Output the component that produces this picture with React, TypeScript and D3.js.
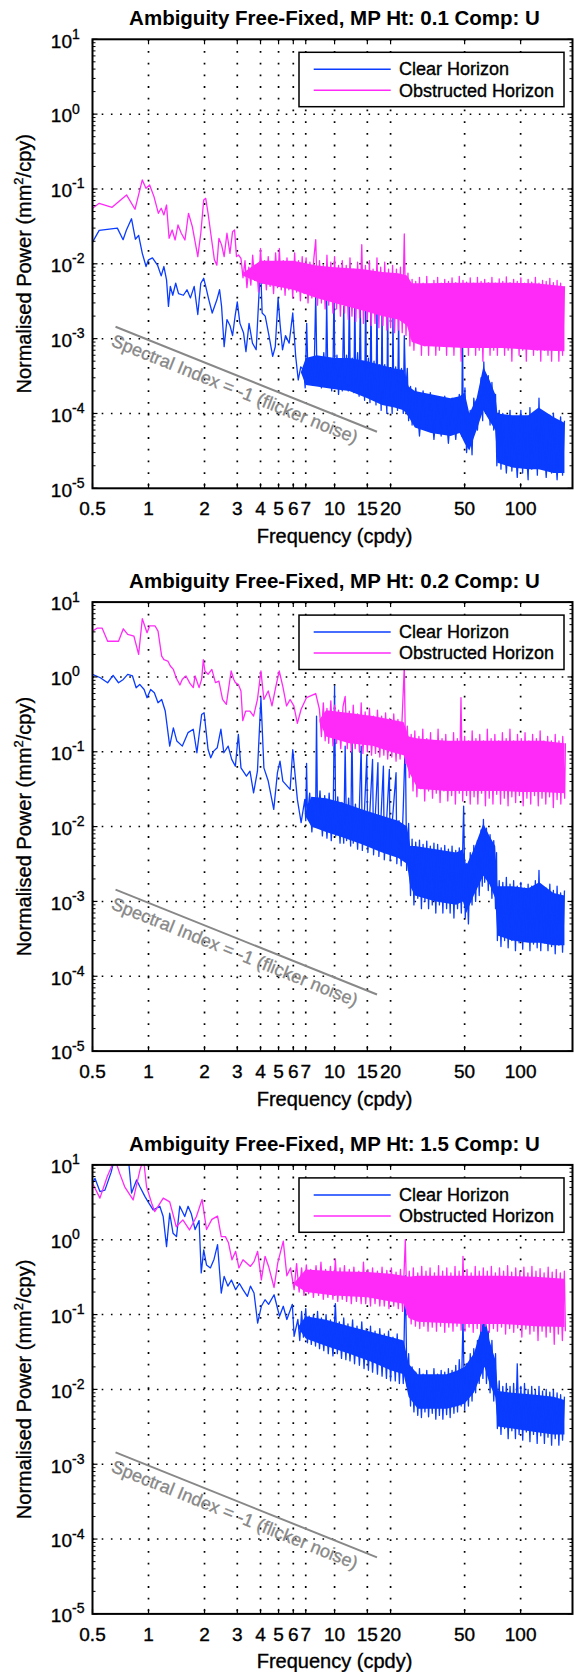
import React from "react";
import * as d3 from "d3";

type Pt = [number, number];
type Band = [number, number, number];

const titles = [
  "Ambiguity Free-Fixed, MP Ht: 0.1 Comp: U",
  "Ambiguity Free-Fixed, MP Ht: 0.2 Comp: U",
  "Ambiguity Free-Fixed, MP Ht: 1.5 Comp: U",
];
const seriesNames = ["Clear Horizon", "Obstructed Horizon"];
const seriesColors = ["#0a3cff", "#ff2af8"];
const xTickValues = [0.5, 1, 2, 3, 4, 5, 6, 7, 10, 15, 20, 50, 100];
const yExponents = [-5, -4, -3, -2, -1, 0, 1];
const spectralF = [0.665, 16.9];
const spectralV = [1.44e-3, 5.7e-5];
const spectralLabel = "Spectral Index = -1 (flicker noise)";

// ---- panel 1 (MP Ht 0.1) ----
const p1ClearLine: Pt[] = [
  [0.5, 0.0194], [0.543, 0.028], [0.68, 0.03], [0.73, 0.021], [0.76, 0.028], [0.81, 0.04], [0.85, 0.0213],
  [0.885, 0.024], [0.926, 0.0138], [0.97, 0.0092], [1.0, 0.0113], [1.05, 0.012], [1.12, 0.0095], [1.17, 0.0069],
  [1.21, 0.0092], [1.25, 0.0061], [1.28, 0.0027], [1.31, 0.005], [1.35, 0.0038], [1.4, 0.0055], [1.45, 0.004],
  [1.54, 0.0038], [1.61, 0.0045], [1.68, 0.0035], [1.76, 0.005], [1.84, 0.0021], [1.91, 0.0055], [1.98, 0.0064],
  [2.03, 0.005], [2.11, 0.0033], [2.2, 0.0022], [2.33, 0.0033], [2.41, 0.0045], [2.47, 0.0027], [2.55, 0.00078],
  [2.64, 0.0018], [2.74, 0.0015], [2.83, 0.0011], [2.92, 0.002], [3.0, 0.0031], [3.1, 0.0016], [3.24, 0.0012],
  [3.34, 0.00067], [3.47, 0.0016], [3.62, 0.00087], [3.79, 0.00071], [3.91, 0.0033], [4.0, 0.01], [4.08, 0.0022],
  [4.24, 0.002], [4.44, 0.0011], [4.65, 0.00058], [4.8, 0.00078], [4.97, 0.0035], [5.09, 0.0016], [5.25, 0.00071],
  [5.45, 0.0011], [5.7, 0.00087], [5.96, 0.0022], [6.18, 0.00058], [6.38, 0.00028], [6.58, 0.00042], [6.83, 3.8e-4],
  [6.95, 2.2e-4], [7.08, 1.6e-3], [7.2, 3e-4], [7.4, 5.5e-4], [7.6, 2.4e-4], [7.8, 6e-4], [7.92, 4e-3], [8.05, 2.6e-4],
  [8.3, 5e-4], [8.5, 2.2e-4], [8.75, 6.5e-4], [8.95, 2.5e-4], [9.07, 3.3e-3], [9.2, 3e-4], [9.45, 5.5e-4], [9.65, 2e-4],
  [9.83, 6e-4], [9.93, 5e-3], [10.05, 2.2e-4], [10.3, 6e-4], [10.5, 1.8e-4], [10.8, 5e-4], [11.0, 2e-4], [11.2, 2.7e-3],
  [11.35, 2.5e-4], [11.6, 6e-4], [11.85, 2e-4], [12.0, 4.5e-3], [12.15, 2.4e-4], [12.45, 5.5e-4], [12.7, 1.9e-4],
  [12.85, 4e-3], [13.0, 2.2e-4], [13.3, 6.5e-4], [13.55, 1.7e-4], [13.75, 3.3e-3], [13.9, 2.3e-4], [14.2, 5e-4],
  [14.5, 1.5e-4], [14.7, 4.5e-3], [14.85, 2e-4], [15.2, 5.5e-4], [15.5, 1.4e-4], [15.7, 3.7e-3], [15.85, 2e-4],
  [16.3, 5e-4], [16.7, 1.3e-4], [16.9, 3.7e-3], [17.05, 1.8e-4], [17.5, 4.5e-4], [17.8, 1.1e-4], [18.0, 3.3e-3],
  [18.15, 1.6e-4], [18.6, 4.5e-4], [19.1, 1e-4], [19.3, 4e-3], [19.45, 1.5e-4], [19.9, 4e-4], [20.4, 1e-4],
  [20.6, 2.4e-3], [20.8, 1.5e-4], [21.3, 4.2e-4], [21.8, 1.1e-4], [22.1, 2.2e-3], [22.3, 1.4e-4], [22.9, 4e-4],
  [23.4, 1e-4], [23.7, 1.1e-3], [24.1, 2e-4], [24.6, 4e-4], [25.0, 8e-5], [25.6, 2.3e-4], [26.1, 7e-5],
  [27.3, 2.2e-4], [28.6, 5e-5], [29.9, 2e-4], [31.3, 6e-5], [32.7, 1.9e-4], [34.2, 4.5e-5], [35.8, 1.6e-4],
  [37.4, 5e-5], [39.1, 1.7e-4], [40.9, 4e-5], [42.8, 1.6e-4], [44.8, 4.5e-5], [46.8, 1.8e-4], [48.2, 5e-5],
  [48.7, 1.45e-3], [49.2, 5e-5], [50.2, 2.2e-4], [51.2, 3e-5], [53.6, 1.1e-4], [54.8, 2.8e-5], [56, 1.6e-4],
  [58.6, 6e-5], [61.3, 3e-4], [62.5, 8e-5], [63.4, 4.9e-4], [64.8, 1e-4], [67, 3.2e-4], [68.5, 7e-5], [70.1, 2.6e-4],
  [71.7, 6e-5], [73.3, 1.8e-4], [74.5, 2e-5], [76.7, 1.1e-4], [78.4, 1.8e-5], [80.2, 1e-4], [83.8, 1.6e-5],
  [87.7, 1.1e-4], [89.7, 1.7e-5], [91.7, 9e-5], [95.9, 1.4e-5], [100.3, 1.1e-4], [102.5, 1.6e-5], [104.9, 9e-5],
  [109.7, 1.3e-5], [112.2, 1.2e-4], [114.7, 1.8e-5], [120, 1e-4], [123, 1.5e-5], [125.5, 1.6e-4], [128, 2e-5],
  [131.2, 1e-4], [137.2, 1.4e-5], [143.5, 9.5e-5], [146.7, 1.6e-5], [150, 1e-4], [157, 1.3e-5], [164, 9e-5],
  [168, 1.5e-5], [172, 8e-5],
];
const p1ClearBand: Band[] = [
  [6.6, 3.5e-4, 3.6e-4], [7, 2.4e-4, 5.5e-4], [8, 2.3e-4, 6e-4], [10, 2.1e-4, 5.5e-4], [12, 2e-4, 5.5e-4],
  [15, 1.6e-4, 5e-4], [18, 1.3e-4, 4.4e-4], [21, 1.2e-4, 4e-4], [23.5, 1.1e-4, 3.8e-4], [25, 9e-5, 2.3e-4],
  [27, 6.5e-5, 2e-4], [33, 5.5e-5, 1.8e-4], [42, 5e-5, 1.6e-4], [47, 5.5e-5, 1.7e-4], [50, 4e-5, 1.9e-4],
  [53, 3.2e-5, 1e-4], [58, 6e-5, 1.6e-4], [63, 1.1e-4, 4.2e-4], [68, 8e-5, 2.8e-4], [73, 6e-5, 1.8e-4],
  [75, 2.2e-5, 1e-4], [90, 1.9e-5, 9.5e-5], [110, 1.8e-5, 9.5e-5], [125, 1.8e-5, 1.2e-4], [150, 1.6e-5, 9e-5],
  [172, 1.6e-5, 7.5e-5],
];
const p1ObsLine: Pt[] = [
  [0.5, 0.0552], [0.543, 0.0643], [0.637, 0.0569], [0.762, 0.0832], [0.846, 0.0535], [0.926, 0.132], [0.969, 0.102],
  [1.014, 0.113], [1.07, 0.079], [1.13, 0.0473], [1.17, 0.0552], [1.21, 0.045], [1.25, 0.061], [1.29, 0.0219],
  [1.34, 0.0283], [1.39, 0.0208], [1.44, 0.033], [1.5, 0.0256], [1.57, 0.0208], [1.64, 0.0473], [1.72, 0.0314],
  [1.84, 0.0125], [1.91, 0.0256], [1.98, 0.0713], [2.03, 0.075], [2.09, 0.0473], [2.16, 0.0256], [2.26, 0.0113],
  [2.33, 0.0096], [2.39, 0.0219], [2.47, 0.0179], [2.55, 0.0125], [2.64, 0.0256], [2.74, 0.0138], [2.83, 0.0269],
  [2.9, 0.0283], [2.97, 0.0125], [3.05, 0.0131], [3.14, 0.0118], [3.22, 0.0065], [3.3, 0.011], [3.38, 0.0048],
  [3.46, 0.009], [3.55, 0.0052], [3.63, 0.013], [3.72, 0.006], [3.81, 0.0095], [3.9, 0.0042], [4.0, 0.016],
  [4.1, 0.0055], [4.2, 0.011], [4.3, 0.0045], [4.4, 0.0125], [4.5, 0.005], [4.6, 0.0095], [4.7, 0.004], [4.82, 0.014],
  [4.94, 0.0048], [5.05, 0.016], [5.17, 0.0045], [5.3, 0.011], [5.42, 0.0038], [5.55, 0.012], [5.68, 0.0045],
  [5.82, 0.0105], [5.96, 0.0035], [6.1, 0.014], [6.25, 0.0042], [6.4, 0.011], [6.55, 0.0032], [6.7, 0.0125],
  [6.86, 0.004], [7.03, 0.012], [7.2, 0.003], [7.37, 0.0105], [7.55, 0.0035], [7.73, 0.0115], [7.92, 0.021],
  [8.1, 0.0028], [8.3, 0.011], [8.5, 0.003], [8.7, 0.0095], [8.9, 0.0025], [9.1, 0.013], [9.3, 0.0028], [9.55, 0.0105],
  [9.8, 0.0022], [10.0, 0.0125], [10.25, 0.0025], [10.5, 0.0095], [10.75, 0.002], [11.0, 0.011], [11.3, 0.0022],
  [11.55, 0.0095], [11.85, 0.0018], [12.1, 0.012], [12.4, 0.002], [12.7, 0.0085], [13.0, 0.0017], [13.3, 0.0105],
  [13.65, 0.0019], [14.0, 0.018], [14.3, 0.0016], [14.65, 0.0095], [15.0, 0.0018], [15.4, 0.011], [15.75, 0.0015],
  [16.1, 0.0085], [16.5, 0.0016], [16.9, 0.012], [17.3, 0.0014], [17.7, 0.009], [18.2, 0.0015], [18.6, 0.0105],
  [19.1, 0.0013], [19.5, 0.0085], [20, 0.0014], [20.5, 0.0095], [21, 0.0012], [21.5, 0.0085], [22, 0.0013],
  [22.6, 0.009], [23.1, 0.0012], [23.7, 0.025], [24.2, 0.0011], [24.8, 0.0075], [25.4, 0.0008], [26.1, 0.0062],
  [26.7, 0.0007], [27.3, 0.0058], [28, 0.0009], [28.6, 0.0066], [29.3, 0.0006], [29.9, 0.0055], [30.6, 0.0008],
  [31.3, 0.0068], [32, 0.0006], [32.7, 0.0052], [33.5, 0.0009], [34.2, 0.006], [35, 0.0006], [35.8, 0.0066],
  [36.6, 0.0007], [37.4, 0.0055], [38.2, 0.0009], [39.1, 0.0062], [40, 0.0006], [40.9, 0.0058], [41.8, 0.0008],
  [42.8, 0.0065], [43.8, 0.0006], [44.8, 0.0056], [45.8, 0.0009], [46.8, 0.0068], [47.9, 0.0005], [49, 0.006],
  [50.1, 0.0008], [51.2, 0.0057], [52.4, 0.0006], [53.6, 0.0065], [54.8, 0.0008], [56, 0.0055], [57.3, 0.0006],
  [58.6, 0.0066], [59.9, 0.0007], [61.3, 0.0058], [62.7, 0.0005], [64.1, 0.0062], [65.5, 0.0008], [67, 0.0056],
  [68.5, 0.0006], [70.1, 0.0066], [71.7, 0.0007], [73.3, 0.0055], [75, 0.0006], [76.7, 0.0063], [78.4, 0.0008],
  [80.2, 0.0058], [82, 0.0006], [83.8, 0.0067], [85.7, 0.0007], [87.7, 0.0056], [89.7, 0.0005], [91.7, 0.0062],
  [93.8, 0.0008], [95.9, 0.0058], [98.1, 0.0006], [100.3, 0.0065], [102.6, 0.0007], [104.9, 0.0055], [107.3, 0.0005],
  [109.7, 0.0062], [112.2, 0.0008], [114.7, 0.0057], [117.3, 0.0006], [120, 0.0066], [122.7, 0.0007], [125.5, 0.0055],
  [128.3, 0.0005], [131.2, 0.006], [134.2, 0.0007], [137.2, 0.0058], [140.3, 0.0006], [143.5, 0.0064],
  [146.7, 0.0005], [150, 0.0056], [153.4, 0.0007], [157, 0.006], [160.5, 0.0005], [164, 0.0055], [168, 0.0006],
  [172, 0.005],
];
const p1ObsBand: Band[] = [
  [3.2, 0.007, 0.0075], [4, 0.0055, 0.011], [6, 0.0045, 0.011], [8, 0.0035, 0.0095], [10, 0.003, 0.009],
  [14, 0.0024, 0.0085], [18, 0.002, 0.0078], [22, 0.0018, 0.0075], [24.5, 0.0015, 0.007], [26, 0.0009, 0.0055],
  [30, 0.0008, 0.0055], [50, 0.00075, 0.0056], [80, 0.00075, 0.0056], [120, 0.0007, 0.0055], [172, 0.00068, 0.005],
];

// ---- panel 2 (MP Ht 0.2) ----
const p2ClearLine: Pt[] = [
  [0.5, 1.08], [0.551, 0.975], [0.603, 0.836], [0.645, 1.05], [0.69, 0.836], [0.732, 0.926], [0.773, 1.08],
  [0.82, 1.03], [0.858, 0.716], [0.897, 0.794], [0.947, 0.68], [0.982, 0.527], [1.027, 0.68], [1.075, 0.614],
  [1.125, 0.452], [1.177, 0.5], [1.23, 0.35], [1.3, 0.119], [1.36, 0.209], [1.42, 0.139], [1.52, 0.119],
  [1.63, 0.18], [1.74, 0.2], [1.82, 0.097], [1.93, 0.315], [1.99, 0.332], [2.09, 0.107], [2.16, 0.083],
  [2.24, 0.102], [2.34, 0.113], [2.45, 0.2], [2.54, 0.097], [2.68, 0.119], [2.8, 0.079], [2.93, 0.0643],
  [3.04, 0.171], [3.14, 0.061], [3.36, 0.0473], [3.51, 0.055], [3.67, 0.0283], [3.85, 0.055], [4.02, 0.527],
  [4.17, 0.061], [4.4, 0.0406], [4.71, 0.017], [4.93, 0.0525], [5.09, 0.075], [5.27, 0.0406], [5.77, 0.0314],
  [5.96, 0.107], [6.31, 0.0231], [6.61, 0.0113], [6.92, 0.0231], [7.0, 0.012], [7.07, 0.07], [7.15, 0.014],
  [7.35, 0.028], [7.55, 0.0085], [7.75, 0.024], [7.9, 0.01], [8.0, 0.3], [8.1, 0.011], [8.35, 0.03], [8.6, 0.0075],
  [8.85, 0.026], [9.1, 0.007], [9.35, 0.028], [9.6, 0.0065], [9.85, 0.022], [10.0, 0.754], [10.15, 0.0075],
  [10.4, 0.025], [10.7, 0.006], [10.95, 0.021], [11.2, 0.006], [11.4, 0.119], [11.6, 0.0065], [11.9, 0.024],
  [12.2, 0.0055], [12.4, 0.22], [12.6, 0.006], [12.95, 0.02], [13.3, 0.005], [13.6, 0.019], [13.9, 0.119],
  [14.1, 0.0048], [14.5, 0.018], [14.9, 0.088], [15.1, 0.0045], [15.5, 0.017], [16.0, 0.079], [16.2, 0.0042],
  [16.6, 0.016], [17.1, 0.0713], [17.3, 0.004], [17.8, 0.015], [18.3, 0.0643], [18.5, 0.0036], [19.1, 0.014],
  [19.7, 0.058], [19.9, 0.0035], [20.5, 0.013], [21.4, 0.0525], [21.6, 0.0032], [22.2, 0.012], [22.8, 0.003],
  [23.4, 0.018], [24.0, 0.145], [24.4, 0.0026], [25, 0.011], [25.6, 0.0012], [26.1, 0.0068], [26.7, 0.0009],
  [27.3, 0.0062], [28, 0.0011], [28.6, 0.0066], [29.3, 0.0008], [29.9, 0.0058], [30.6, 0.001], [31.3, 0.0064],
  [32, 0.0008], [32.7, 0.0055], [33.5, 0.0009], [34.2, 0.006], [35, 0.0007], [35.8, 0.0058], [36.6, 0.0009],
  [37.4, 0.0052], [38.2, 0.0007], [39.1, 0.0056], [40, 0.0008], [40.9, 0.005], [41.8, 0.0007], [42.8, 0.0055],
  [43.8, 0.0006], [44.8, 0.0048], [45.8, 0.0008], [46.8, 0.0052], [48, 0.0007], [49.4, 0.0188], [50.4, 0.0006],
  [51.2, 0.0032], [52.4, 0.0005], [53.6, 0.0045], [54.8, 0.0009], [56, 0.0056], [57.3, 0.001], [58.6, 0.0065],
  [59.9, 0.0012], [61.3, 0.009], [62.2, 0.0016], [63.1, 0.0125], [64.1, 0.0018], [65.5, 0.0095], [67, 0.0014],
  [68.5, 0.0078], [70.1, 0.0011], [71.7, 0.0065], [73.3, 0.0008], [74.2, 0.0045], [75, 0.0003], [76.7, 0.0019],
  [78.4, 0.00025], [80.2, 0.0018], [82, 0.0003], [83.8, 0.0021], [85.7, 0.00024], [87.7, 0.0017], [89.7, 0.0003],
  [91.7, 0.0019], [93.8, 0.00022], [95.9, 0.0016], [98.1, 0.00028], [100.3, 0.0018], [102.6, 0.00023],
  [104.9, 0.0015], [107.3, 0.0003], [109.7, 0.0017], [112.2, 0.00022], [114.7, 0.0016], [117.3, 0.00027],
  [120, 0.0019], [122.7, 0.00024], [125.5, 0.0026], [128.3, 0.00022], [131.2, 0.0016], [134.2, 0.00028],
  [137.2, 0.0015], [140.3, 0.00022], [143.5, 0.0017], [146.7, 0.00025], [150, 0.0014], [153.4, 0.0002],
  [157, 0.0016], [160.5, 0.00026], [164, 0.0013], [168, 0.00021], [172, 0.0014],
];
const p2ClearBand: Band[] = [
  [6.95, 0.014, 0.015], [7.5, 0.01, 0.025], [9, 0.0085, 0.024], [11, 0.0072, 0.021], [14, 0.0058, 0.017],
  [18, 0.0045, 0.014], [22, 0.0038, 0.012], [24.5, 0.0032, 0.01], [25.5, 0.0016, 0.0055], [27, 0.0012, 0.0055],
  [35, 0.001, 0.005], [45, 0.0009, 0.0045], [49, 0.001, 0.005], [51, 0.0007, 0.003], [56, 0.0012, 0.005],
  [63, 0.0022, 0.011], [68, 0.0017, 0.0075], [73, 0.0011, 0.0055], [75, 0.00035, 0.0016], [90, 0.0003, 0.0016],
  [110, 0.00028, 0.0015], [126, 0.00028, 0.0018], [150, 0.00026, 0.0013], [172, 0.00026, 0.0012],
];
const p2ObsLine: Pt[] = [
  [0.5, 4.1], [0.531, 4.5], [0.563, 4.5], [0.603, 3.0], [0.69, 3.0], [0.732, 4.4], [0.773, 3.7], [0.835, 3.5],
  [0.885, 2.0], [0.926, 6.0], [0.982, 3.9], [1.014, 4.8], [1.085, 4.8], [1.125, 4.1], [1.177, 1.9], [1.21, 1.7],
  [1.27, 1.63], [1.31, 1.4], [1.36, 1.26], [1.41, 0.97], [1.475, 0.78], [1.52, 0.93], [1.59, 1.03], [1.67, 0.82],
  [1.74, 0.72], [1.78, 1.03], [1.87, 0.72], [1.93, 0.93], [1.97, 1.7], [2.01, 1.2], [2.09, 1.08], [2.19, 1.26],
  [2.29, 0.84], [2.39, 0.88], [2.5, 0.5], [2.62, 0.43], [2.78, 1.2], [2.87, 0.93], [2.93, 0.84], [3.04, 0.79],
  [3.14, 0.65], [3.21, 0.26], [3.33, 0.35], [3.51, 0.35], [3.67, 0.3], [3.85, 0.5], [4.02, 1.2], [4.17, 0.5],
  [4.4, 0.65], [4.61, 0.41], [4.82, 0.72], [5.04, 1.2], [5.27, 0.75], [5.52, 0.41], [5.77, 0.5], [6.04, 0.41],
  [6.31, 0.24], [6.61, 0.37], [7.07, 0.53], [7.92, 0.6], [8.29, 0.37], [8.5, 0.16], [8.7, 0.45], [8.9, 0.14],
  [9.1, 0.38], [9.3, 0.13], [9.55, 0.48], [9.8, 0.12], [10.0, 0.42], [10.25, 0.13], [10.5, 0.36], [10.8, 0.11],
  [11.1, 0.4], [11.4, 0.55], [11.7, 0.11], [12.0, 0.35], [12.3, 0.1], [12.6, 0.42], [12.9, 0.11], [13.3, 0.32],
  [13.6, 0.1], [13.9, 0.45], [14.2, 0.095], [14.6, 0.34], [15, 0.1], [15.4, 0.38], [15.8, 0.09], [16.2, 0.3],
  [16.6, 0.095], [17, 0.36], [17.5, 0.085], [17.9, 0.3], [18.4, 0.09], [18.8, 0.33], [19.3, 0.08], [19.8, 0.28],
  [20.3, 0.085], [20.8, 0.32], [21.4, 0.075], [21.9, 0.27], [22.5, 0.08], [23.1, 0.3], [23.7, 1.4], [24.1, 0.07],
  [24.6, 0.22], [25.2, 0.045], [25.8, 0.17], [26.4, 0.03], [27, 0.19], [27.7, 0.025], [28.4, 0.16], [29.1, 0.032],
  [29.8, 0.2], [30.5, 0.022], [31.3, 0.15], [32, 0.03], [32.8, 0.18], [33.6, 0.024], [34.4, 0.14], [35.2, 0.028],
  [36, 0.2], [36.9, 0.021], [37.8, 0.15], [38.7, 0.03], [39.6, 0.17], [40.6, 0.022], [41.6, 0.13], [42.6, 0.026],
  [43.6, 0.18], [44.6, 0.02], [45.7, 0.15], [46.8, 0.028], [47.8, 0.53], [48.8, 0.022], [50, 0.16], [51.2, 0.026],
  [52.4, 0.14], [53.6, 0.02], [54.9, 0.19], [56.2, 0.025], [57.5, 0.15], [58.9, 0.02], [60.3, 0.17], [61.7, 0.028],
  [63.2, 0.14], [64.7, 0.019], [66.2, 0.2], [67.8, 0.024], [69.4, 0.15], [71, 0.02], [72.7, 0.17], [74.4, 0.027],
  [76.2, 0.14], [78, 0.02], [79.8, 0.18], [81.7, 0.024], [83.6, 0.15], [85.6, 0.019], [87.6, 0.2], [89.7, 0.025],
  [91.8, 0.14], [94, 0.021], [96.2, 0.17], [98.5, 0.026], [100.8, 0.15], [103.2, 0.019], [105.6, 0.18],
  [108.1, 0.024], [110.7, 0.14], [113.3, 0.02], [116, 0.17], [118.7, 0.026], [121.5, 0.15], [124.4, 0.019],
  [127.3, 0.19], [130.3, 0.024], [133.4, 0.14], [136.5, 0.02], [139.7, 0.16], [143, 0.025], [146.4, 0.14],
  [149.9, 0.018], [153.4, 0.17], [157, 0.023], [160.7, 0.14], [164.5, 0.02], [168.4, 0.16], [172.4, 0.024],
  [174, 0.13],
];
const p2ObsBand: Band[] = [
  [8.3, 0.25, 0.27], [9, 0.16, 0.36], [12, 0.13, 0.33], [16, 0.12, 0.3], [20, 0.1, 0.27], [23.5, 0.09, 0.25],
  [25, 0.055, 0.16], [28, 0.032, 0.15], [40, 0.03, 0.14], [60, 0.03, 0.14], [80, 0.03, 0.14], [100, 0.029, 0.14],
  [130, 0.029, 0.14], [172, 0.028, 0.13],
];

// ---- panel 3 (MP Ht 1.5) ----
const p3ClearLine: Pt[] = [
  [0.5, 5.7], [0.516, 6.6], [0.548, 4.4], [0.583, 4.6], [0.63, 8], [0.66, 13], [0.72, 14], [0.78, 12],
  [0.811, 4.2], [0.863, 6.3], [0.899, 5.1], [0.956, 3.8], [0.995, 3.2], [1.059, 2.5], [1.15, 2.8], [1.199, 2.04],
  [1.25, 0.81], [1.3, 2.26], [1.355, 1.22], [1.414, 1.1], [1.472, 2.8], [1.566, 2.04], [1.632, 2.8], [1.7, 2.2],
  [1.78, 1.37], [1.87, 1.8], [1.92, 0.36], [1.98, 0.73], [2.05, 0.46], [2.15, 0.42], [2.25, 0.55], [2.35, 0.86],
  [2.46, 0.194], [2.55, 0.324], [2.67, 0.24], [2.79, 0.29], [2.94, 0.215], [3.08, 0.26], [3.22, 0.215],
  [3.4, 0.175], [3.53, 0.24], [3.69, 0.194], [3.86, 0.077], [4.04, 0.129], [4.23, 0.158], [4.42, 0.137],
  [4.73, 0.184], [5.06, 0.095], [5.3, 0.129], [5.54, 0.086], [5.93, 0.137], [6.06, 0.051], [6.35, 0.086],
  [6.5, 0.045], [6.65, 0.11], [6.8, 0.05], [7.0, 0.12], [7.15, 0.042], [7.3, 0.095], [7.5, 0.04], [7.7, 0.1],
  [7.9, 0.038], [8.1, 0.11], [8.3, 0.035], [8.5, 0.09], [8.75, 0.033], [9.0, 0.1], [9.25, 0.03], [9.5, 0.085],
  [9.8, 0.028], [10.1, 0.14], [10.35, 0.03], [10.6, 0.08], [10.9, 0.026], [11.2, 0.09], [11.5, 0.025], [11.8, 0.075],
  [12.1, 0.024], [12.5, 0.085], [12.8, 0.022], [13.2, 0.07], [13.6, 0.021], [14, 0.08], [14.4, 0.019], [14.8, 0.065],
  [15.2, 0.018], [15.6, 0.07], [16, 0.017], [16.5, 0.06], [17, 0.016], [17.5, 0.065], [18, 0.015], [18.5, 0.055],
  [19, 0.014], [19.5, 0.06], [20, 0.013], [20.6, 0.05], [21.2, 0.013], [21.7, 0.055], [22.3, 0.012], [22.8, 0.045],
  [23.4, 0.012], [24, 0.33], [24.5, 0.011], [25, 0.03], [25.6, 0.006], [26.1, 0.02], [26.7, 0.005], [27.3, 0.017],
  [28, 0.0045], [28.6, 0.019], [29.3, 0.0042], [29.9, 0.016], [30.6, 0.005], [31.3, 0.018], [32, 0.0043],
  [32.7, 0.015], [33.5, 0.0048], [34.2, 0.019], [35, 0.004], [35.8, 0.016], [36.6, 0.0045], [37.4, 0.018],
  [38.2, 0.004], [39.1, 0.017], [40, 0.0046], [40.9, 0.019], [41.8, 0.0042], [42.8, 0.018], [43.8, 0.0048],
  [44.8, 0.021], [45.8, 0.005], [46.8, 0.025], [47.9, 0.006], [49, 0.09], [50, 0.0053], [51.2, 0.022], [52.4, 0.006],
  [53.6, 0.03], [54.8, 0.007], [56, 0.035], [57.3, 0.009], [58.6, 0.045], [59.9, 0.012], [61.3, 0.08], [62.7, 0.014],
  [64, 0.13], [65.5, 0.012], [67, 0.06], [68.5, 0.009], [70.1, 0.045], [71.7, 0.007], [73.3, 0.03], [75, 0.003],
  [76.7, 0.013], [78.4, 0.0025], [80.2, 0.011], [82, 0.003], [83.8, 0.012], [85.7, 0.0022], [87.7, 0.011],
  [89.7, 0.0028], [91.7, 0.012], [93.8, 0.0022], [95.9, 0.022], [98.1, 0.0025], [100.3, 0.011], [102.6, 0.0021],
  [104.9, 0.012], [107.3, 0.0027], [109.7, 0.01], [112.2, 0.002], [114.7, 0.011], [117.3, 0.0025], [120, 0.0098],
  [122.7, 0.0019], [125.5, 0.011], [128.3, 0.0024], [131.2, 0.0095], [134.2, 0.0019], [137.2, 0.01],
  [140.3, 0.0023], [143.5, 0.0092], [146.7, 0.0018], [150, 0.0098], [153.4, 0.0022], [157, 0.009],
  [160.5, 0.0018], [164, 0.0085], [168, 0.0021], [172, 0.008],
];
const p3ClearBand: Band[] = [
  [6.4, 0.065, 0.07], [7, 0.048, 0.095], [9, 0.038, 0.085], [12, 0.03, 0.07], [16, 0.023, 0.058], [20, 0.018, 0.05],
  [23.5, 0.016, 0.045], [25, 0.008, 0.022], [28, 0.0055, 0.016], [40, 0.0055, 0.016], [46, 0.006, 0.018],
  [50, 0.0065, 0.02], [56, 0.009, 0.03], [61, 0.015, 0.06], [64, 0.02, 0.1], [68, 0.012, 0.045], [73, 0.008, 0.025],
  [75.5, 0.0032, 0.0095], [90, 0.003, 0.009], [120, 0.0027, 0.0085], [150, 0.0025, 0.008], [172, 0.0025, 0.0072],
];
const p3ObsLine: Pt[] = [
  [0.5, 5.7], [0.548, 3.6], [0.6, 7], [0.66, 12], [0.7, 7.7], [0.745, 5.1], [0.827, 3.4], [0.9, 8.6], [0.94, 12],
  [0.976, 5.1], [1.04, 3.08], [1.08, 2.38], [1.2, 3.6], [1.3, 3.2], [1.41, 1.49], [1.53, 1.84], [1.66, 1.35],
  [1.81, 2.04], [1.94, 3.46], [2.05, 1.37], [2.19, 1.87], [2.35, 2.07], [2.46, 1.1], [2.59, 1.1], [2.69, 0.91],
  [2.81, 0.54], [2.94, 0.7], [3.06, 0.42], [3.22, 0.54], [3.53, 0.44], [3.69, 0.51], [3.86, 0.7], [4.04, 0.29],
  [4.23, 0.6], [4.42, 0.44], [4.73, 0.23], [4.95, 0.49], [5.3, 0.96], [5.54, 0.33], [5.8, 0.42], [6.06, 0.215],
  [6.25, 0.48], [6.45, 0.2], [6.65, 0.42], [6.85, 0.18], [7.05, 0.46], [7.25, 0.19], [7.45, 0.4], [7.7, 0.17],
  [7.95, 0.45], [8.2, 0.18], [8.45, 0.5], [8.7, 0.16], [8.95, 0.4], [9.2, 0.17], [9.5, 0.44], [9.8, 0.16],
  [10.1, 0.55], [10.4, 0.15], [10.7, 0.42], [11, 0.16], [11.3, 0.45], [11.6, 0.15], [12, 0.4], [12.3, 0.14],
  [12.7, 0.43], [13.1, 0.15], [13.5, 0.38], [13.9, 0.14], [14.3, 0.5], [14.7, 0.14], [15.1, 0.4], [15.6, 0.13],
  [16, 0.42], [16.5, 0.14], [17, 0.38], [17.5, 0.13], [18, 0.43], [18.5, 0.13], [19.1, 0.39], [19.6, 0.12],
  [20.2, 0.42], [20.8, 0.13], [21.4, 0.37], [22, 0.12], [22.6, 0.4], [23.2, 0.11], [24, 1.0], [24.5, 0.1],
  [25.2, 0.38], [25.8, 0.075], [26.5, 0.42], [27.2, 0.07], [28, 0.36], [28.7, 0.065], [29.4, 0.44], [30.2, 0.07],
  [31, 0.38], [31.8, 0.06], [32.6, 0.42], [33.5, 0.068], [34.4, 0.36], [35.3, 0.06], [36.2, 0.45], [37.1, 0.07],
  [38.1, 0.38], [39.1, 0.058], [40.1, 0.42], [41.1, 0.068], [42.2, 0.36], [43.3, 0.06], [44.4, 0.44], [45.5, 0.07],
  [46.7, 0.38], [47.9, 0.062], [49, 0.6], [50.2, 0.06], [51.5, 0.4], [52.8, 0.068], [54.2, 0.36], [55.6, 0.058],
  [57, 0.44], [58.4, 0.065], [59.9, 0.38], [61.4, 0.06], [63, 0.42], [64.6, 0.07], [66.2, 0.38], [67.9, 0.058],
  [69.6, 0.44], [71.4, 0.065], [73.2, 0.36], [75.1, 0.06], [77, 0.42], [79, 0.068], [81, 0.38], [83, 0.055],
  [85.1, 0.45], [87.3, 0.065], [89.5, 0.37], [91.8, 0.058], [94.1, 0.42], [96.5, 0.066], [99, 0.38], [101.5, 0.05],
  [104.1, 0.43], [106.7, 0.064], [109.4, 0.36], [112.2, 0.055], [115, 0.44], [117.9, 0.06], [120.9, 0.38],
  [124, 0.045], [127.2, 0.41], [130.4, 0.06], [133.7, 0.36], [137.1, 0.05], [140.6, 0.43], [144.2, 0.058],
  [147.8, 0.37], [151.6, 0.04], [155.4, 0.4], [159.4, 0.055], [163.4, 0.36], [167.6, 0.045], [171.8, 0.38],
  [174, 0.06],
];
const p3ObsBand: Band[] = [
  [6.1, 0.25, 0.27], [7, 0.2, 0.4], [10, 0.18, 0.38], [15, 0.17, 0.37], [20, 0.15, 0.35], [23.5, 0.14, 0.33],
  [25, 0.09, 0.32], [28, 0.08, 0.33], [50, 0.075, 0.33], [80, 0.075, 0.33], [120, 0.07, 0.32], [172, 0.068, 0.3],
];

const panels = [
  { title: titles[0], clear: p1ClearLine, clearBand: p1ClearBand, obs: p1ObsLine, obsBand: p1ObsBand },
  { title: titles[1], clear: p2ClearLine, clearBand: p2ClearBand, obs: p2ObsLine, obsBand: p2ObsBand },
  { title: titles[2], clear: p3ClearLine, clearBand: p3ClearBand, obs: p3ObsLine, obsBand: p3ObsBand },
];

const W = 574;
const H = 1672;
const LEFT = 92.5;
const RIGHT = 572.5;
const PLOT_H = 449;
const TOPS = [39.3, 602.1, 1164.9];
const FONT = "'Liberation Sans', Arial, Helvetica, sans-serif";

function Panel({ idx }: { idx: number }) {
  const p = panels[idx];
  const top = TOPS[idx];
  const bottom = top + PLOT_H;
  const x = d3.scaleLog().domain([0.5, 190]).range([LEFT, RIGHT]);
  const y = d3.scaleLog().domain([1e-5, 10]).range([bottom, top]);
  const line = d3.line<Pt>().x((d) => x(d[0])).y((d) => y(d[1]));
  const area = d3.area<Band>().x((d) => x(d[0])).y0((d) => y(d[1])).y1((d) => y(d[2]));
  const clipId = `plotclip${idx}`;

  const minor: number[] = [];
  for (let e = -5; e < 1; e++) for (let m = 2; m <= 9; m++) minor.push(m * Math.pow(10, e));

  const sx0 = x(spectralF[0]);
  const sy0 = y(spectralV[0]);
  const sx1 = x(spectralF[1]);
  const sy1 = y(spectralV[1]);
  const ang = (Math.atan2(sy1 - sy0, sx1 - sx0) * 180) / Math.PI;
  const cx = (LEFT + RIGHT) / 2 + 2;
  const heavy = { stroke: "#000", strokeWidth: 0.35 };

  return (
    <g>
      <defs>
        <clipPath id={clipId}>
          <rect x={LEFT} y={top} width={RIGHT - LEFT} height={PLOT_H} />
        </clipPath>
      </defs>
      <text x={cx} y={top - 14.3} textAnchor="middle" fontSize={20.5} fontWeight="bold" fontFamily={FONT}>
        {p.title}
      </text>

      {/* grid */}
      {xTickValues.slice(1).map((v) => (
        <line key={"gx" + v} x1={x(v)} x2={x(v)} y1={top} y2={bottom} stroke="#000" strokeWidth={1.7}
          strokeDasharray="1.8 9.9" />
      ))}
      {yExponents.slice(1, -1).map((e) => (
        <line key={"gy" + e} x1={LEFT} x2={RIGHT} y1={y(Math.pow(10, e))} y2={y(Math.pow(10, e))} stroke="#000"
          strokeWidth={1.5} strokeDasharray="1.6 7.6" />
      ))}

      {/* flicker noise reference */}
      <line x1={sx0} y1={sy0} x2={sx1} y2={sy1} stroke="#888" strokeWidth={2} />
      <text transform={`translate(${sx0},${sy0}) rotate(${ang})`} x={2} y={19.5} fontSize={18} fill="#888"
        stroke="#888" strokeWidth={0.35} fontFamily={FONT}>
        {spectralLabel}
      </text>

      <g clipPath={`url(#${clipId})`}>
        <path d={area(p.clearBand) || ""} fill={seriesColors[0]} />
        <path d={line(p.clear) || ""} fill="none" stroke={seriesColors[0]} strokeWidth={1.3} strokeLinejoin="round" />
        <path d={area(p.obsBand) || ""} fill={seriesColors[1]} />
        <path d={line(p.obs) || ""} fill="none" stroke={seriesColors[1]} strokeWidth={1.3} strokeLinejoin="round" />
      </g>

      {/* axes box and ticks */}
      <rect x={LEFT} y={top} width={RIGHT - LEFT} height={PLOT_H} fill="none" stroke="#000" strokeWidth={2} />
      {yExponents.map((e) => {
        const yy = y(Math.pow(10, e));
        return (
          <g key={"yt" + e}>
            <line x1={LEFT} x2={LEFT + 5} y1={yy} y2={yy} stroke="#000" strokeWidth={1.2} />
            <line x1={RIGHT} x2={RIGHT - 5} y1={yy} y2={yy} stroke="#000" strokeWidth={1.2} />
            <text x={72} y={yy + 8.3} textAnchor="end" fontSize={19} fontFamily={FONT} {...heavy}>10</text>
            <text x={72} y={yy - 0.5} fontSize={14} fontFamily={FONT} {...heavy}>{String(e)}</text>
          </g>
        );
      })}
      {minor.map((v) => (
        <g key={"mn" + v}>
          <line x1={LEFT} x2={LEFT + 3} y1={y(v)} y2={y(v)} stroke="#000" strokeWidth={1} />
          <line x1={RIGHT} x2={RIGHT - 3} y1={y(v)} y2={y(v)} stroke="#000" strokeWidth={1} />
        </g>
      ))}
      {xTickValues.map((v) => (
        <g key={"xt" + v}>
          <line x1={x(v)} x2={x(v)} y1={top} y2={top + 5} stroke="#000" strokeWidth={1.2} />
          <line x1={x(v)} x2={x(v)} y1={bottom} y2={bottom - 5} stroke="#000" strokeWidth={1.2} />
          <text x={x(v)} y={bottom + 26.7} textAnchor="middle" fontSize={19} fontFamily={FONT} {...heavy}>
            {String(v)}
          </text>
        </g>
      ))}

      <text x={cx} y={bottom + 54.5} textAnchor="middle" fontSize={20} fontFamily={FONT} {...heavy}>
        Frequency (cpdy)
      </text>
      <text transform={`translate(31,${(top + bottom) / 2}) rotate(-90)`} textAnchor="middle" fontSize={20}
        fontFamily={FONT} {...heavy}>
        Normalised Power (mm<tspan fontSize={13} dy={-8}>2</tspan><tspan dy={8}>/cpy)</tspan>
      </text>

      {/* legend */}
      <rect x={299} y={top + 13} width={265} height={54.4} fill="#fff" stroke="#000" strokeWidth={1.5} />
      {seriesNames.map((name, i) => (
        <g key={name}>
          <line x1={313.7} x2={390.7} y1={top + 30 + i * 21} y2={top + 30 + i * 21} stroke={seriesColors[i]}
            strokeWidth={1.5} />
          <text x={399} y={top + 35.9 + i * 21.4} fontSize={18} fontFamily={FONT} {...heavy}>{name}</text>
        </g>
      ))}
    </g>
  );
}

export default function App() {
  return (
    <div style={{ position: "absolute", left: 0, top: 0 }}>
      <svg width={W} height={H} viewBox={`0 0 ${W} ${H}`} style={{ display: "block", background: "#fff" }}>
        <rect width={W} height={H} fill="#fff" />
        {panels.map((_, i) => (
          <Panel key={i} idx={i} />
        ))}
      </svg>
    </div>
  );
}
